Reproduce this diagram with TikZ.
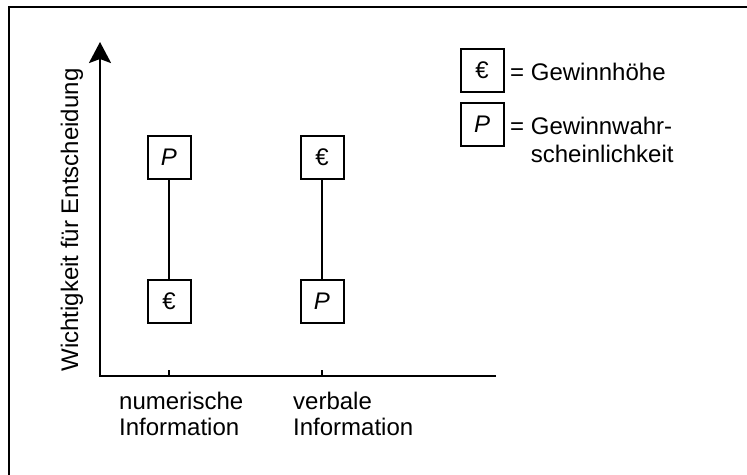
\documentclass[tikz,border=0pt]{standalone}
\usepackage{fontspec}
\setmainfont{Liberation Sans}
\usetikzlibrary{arrows.meta}
\begin{document}
\begin{tikzpicture}[x=1pt,y=-1pt,
  lbl/.style={font=\fontsize{24}{26}\selectfont, inner sep=0pt},
  symbox/.style={draw, line width=2pt, minimum width=43pt, minimum height=43pt, inner sep=0pt, font=\fontsize{24}{26}\selectfont},
  axisline/.style={line width=2.6pt},
  conn/.style={line width=2pt}]
\useasboundingbox (0,0) rectangle (747,474);
\fill[white] (0,0) rectangle (747,474);
\draw[line width=2.2pt] (9,480) -- (9,7) -- (752,7);
% axes
\coordinate (xend) at (496,376);
\coordinate (ytop) at (100,42);
\draw[axisline, -{Stealth[width=22pt,length=21pt,inset=4pt]}] (xend) -| (ytop);
\coordinate (t1a) at (169,376);
\coordinate (t1b) at (169,370);
\coordinate (t2a) at (322,376);
\coordinate (t2b) at (322,370);
\draw[line width=2pt] (t1a) -- (t1b);
\draw[line width=2pt] (t2a) -- (t2b);
% axis labels
\node[lbl, rotate=90] (ylab) at (72,220) {Wichtigkeit für Entscheidung};
\node[lbl, anchor=north west, align=left] (xl1) at (119,392) {numerische\\Information};
\node[lbl, anchor=north west, align=left] (xl2) at (293,392) {verbale\\Information};
% boxes
\node[symbox] (p1) at (169,157) {\textit{P}};
\node[symbox] (e1) at (169,301) {€};
\node[symbox] (e2) at (322,157) {€};
\node[symbox] (p2) at (322,301) {\textit{P}};
\draw[conn] (p1) -- (e1);
\draw[conn] (e2) -- (p2);
% legend
\node[symbox] (le) at (482,70.5) {€};
\node[symbox] (lp) at (482,124.5) {\textit{P}};
\node[lbl, anchor=west] (lte) at (510,72) {= Gewinnhöhe};
\node[lbl, anchor=base west] (ltp) at (510,134) {= \begin{tabular}[t]{@{}l@{}}Gewinnwahr-\\[2pt]scheinlichkeit\end{tabular}};
\end{tikzpicture}
\end{document}
